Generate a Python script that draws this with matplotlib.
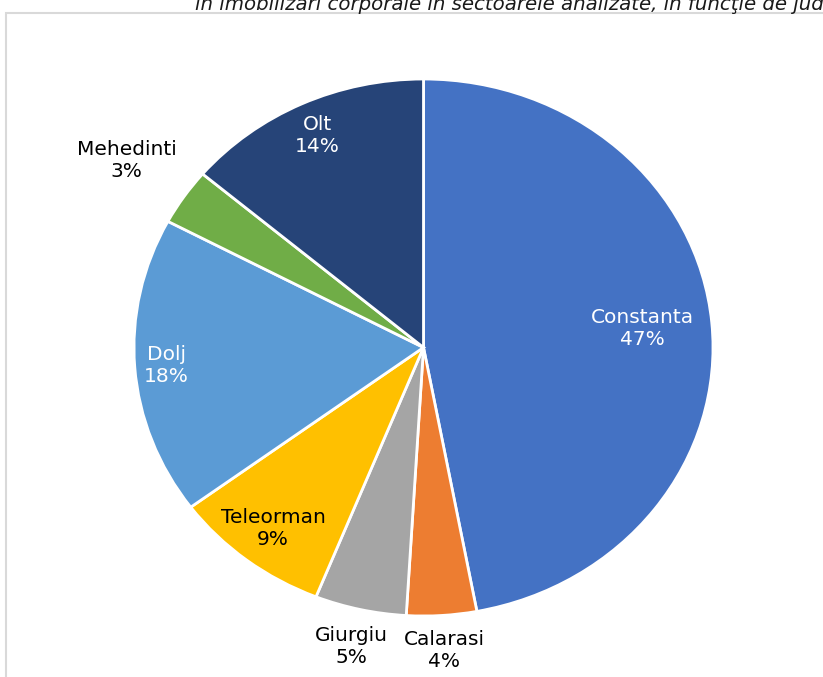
import matplotlib
matplotlib.use("Agg")
import matplotlib.pyplot as plt
import numpy as np
from matplotlib.patches import Rectangle

# Share of tangible fixed assets by county (%)
counties = ["Constanta", "Calarasi", "Giurgiu", "Teleorman", "Dolj", "Mehedinti", "Olt"]
shares = [47.0, 3.9, 5.1, 8.8, 17.9, 3.4, 13.8]
colors = ["#4472C4", "#ED7D31", "#A5A5A5", "#FFC000", "#5B9BD5", "#70AD47", "#264478"]
text_colors = ["white", "black", "black", "black", "white", "black", "white"]
# radial position of each label, as fraction of radius
label_dist = [0.76, 1.13, 1.14, 0.85, 0.89, 1.24, 0.87]

title = "în imobilizări corporale în sectoarele analizate, în funcţie de jud"

W, H = 823, 677
fig = plt.figure(figsize=(W / 100, H / 100), dpi=100)

# light grey frame, open to the right and bottom
fig.patches.append(Rectangle((6 / W, -0.1), 1.2, (H - 13) / H + 0.1,
                             transform=fig.transFigure, fill=False,
                             edgecolor="#D9D9D9", linewidth=1.5))
# header line of the page, cut at the top edge as in the source
fig.text(195 / W, (H - 10) / H, title, fontsize=14.2, style="italic",
         color="#1a1a1a", ha="left", va="baseline")

# pie box in pixel coords (ellipse slightly wider than tall)
cx, cy, rx, ry = 423.5, 347.5, 289.5, 268.5
ax = fig.add_axes([(cx - rx) / W, (H - cy - ry) / H, 2 * rx / W, 2 * ry / H])
wedges, _ = ax.pie(shares, colors=colors, startangle=90, counterclock=False,
                   wedgeprops=dict(edgecolor="white", linewidth=2))
ax.set_aspect("auto")
ax.set_xlim(-1, 1)
ax.set_ylim(-1, 1)
ax.axis("off")

for w, name, v, tc, d in zip(wedges, counties, shares, text_colors, label_dist):
    mid = np.deg2rad((w.theta1 + w.theta2) / 2)
    x, y = d * np.cos(mid), d * np.sin(mid)
    ax.text(x, y, f"{name}\n{v:.0f}%", ha="center", va="center", fontsize=14.5,
            color=tc, linespacing=1.2, clip_on=False)

fig.savefig("out.png", dpi=100)
